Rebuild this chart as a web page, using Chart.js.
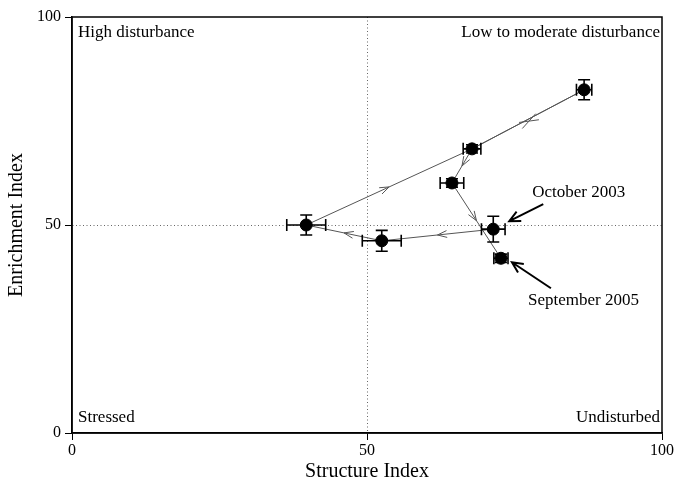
<!DOCTYPE html>
<html>
<head>
<meta charset="utf-8">
<script src="https://cdn.jsdelivr.net/npm/chart.js@4.4.1/dist/chart.umd.min.js"></script>
<style>
  body { margin: 0; background: #fff; }
</style>
</head>
<body>
<canvas id="chart" width="678" height="481"></canvas>
<script>
// sampling points (structure index, enrichment index) with their standard errors
var structure     = [39.7, 52.5, 71.4, 72.7, 64.4, 67.8, 86.8];
var enrichment    = [50.0, 46.2, 49.0, 42.0, 60.1, 68.3, 82.5];
var structureErr  = [3.3, 3.3, 2.0, 1.2, 2.0, 1.5, 1.3];
var enrichmentErr = [2.4, 2.5, 3.1, 1.0, 1.0, 1.0, 2.4];
// order in which the samples were taken: October 2003 ... September 2005
var pathOrder = [2, 1, 0, 5, 6, 5, 4, 3];
var axisTicks = [0, 50, 100];
var quadrantLabels = ['High disturbance', 'Low to moderate disturbance', 'Stressed', 'Undisturbed'];

var points = structure.map(function (x, i) { return { x: x, y: enrichment[i] }; });
var path = pathOrder.map(function (i) { return points[i]; });

var serif = '"Liberation Serif", "DejaVu Serif", serif';

var extras = {
    id: 'extras',
    afterDatasetsDraw: function (chart) {
        var ctx = chart.ctx, a = chart.chartArea;
        var xs = chart.scales.x, ys = chart.scales.y;
        ctx.save();

        // frame
        ctx.strokeStyle = '#000';
        ctx.lineWidth = 1.5;
        ctx.strokeRect(a.left, a.top, a.right - a.left, a.bottom - a.top);

        // open arrowheads in the middle of each segment
        ctx.strokeStyle = '#555';
        ctx.lineWidth = 1;
        for (var k = 0; k < path.length - 1; k++) {
            var x1 = xs.getPixelForValue(path[k].x), y1 = ys.getPixelForValue(path[k].y);
            var x2 = xs.getPixelForValue(path[k + 1].x), y2 = ys.getPixelForValue(path[k + 1].y);
            var ang = Math.atan2(y2 - y1, x2 - x1);
            var mx = (x1 + x2) / 2, my = (y1 + y2) / 2;
            var off = (k === 3) ? -2 : (k === 4 ? 2 : 0);
            mx += off * Math.sin(ang); my -= off * Math.cos(ang);
            ctx.beginPath();
            ctx.moveTo(mx - 10 * Math.cos(ang - 0.35), my - 10 * Math.sin(ang - 0.35));
            ctx.lineTo(mx, my);
            ctx.lineTo(mx - 10 * Math.cos(ang + 0.35), my - 10 * Math.sin(ang + 0.35));
            ctx.stroke();
        }

        // error bars
        ctx.strokeStyle = '#000';
        ctx.lineWidth = 1.6;
        points.forEach(function (p, i) {
            var cx = xs.getPixelForValue(p.x), cy = ys.getPixelForValue(p.y);
            var xl = xs.getPixelForValue(p.x - structureErr[i]), xr = xs.getPixelForValue(p.x + structureErr[i]);
            var yt = ys.getPixelForValue(p.y + enrichmentErr[i]), yb = ys.getPixelForValue(p.y - enrichmentErr[i]);
            ctx.beginPath();
            ctx.moveTo(xl, cy); ctx.lineTo(xr, cy);
            ctx.moveTo(xl, cy - 6); ctx.lineTo(xl, cy + 6);
            ctx.moveTo(xr, cy - 6); ctx.lineTo(xr, cy + 6);
            ctx.moveTo(cx, yt); ctx.lineTo(cx, yb);
            ctx.moveTo(cx - 6, yt); ctx.lineTo(cx + 6, yt);
            ctx.moveTo(cx - 6, yb); ctx.lineTo(cx + 6, yb);
            ctx.stroke();
        });

        // quadrant labels
        ctx.fillStyle = '#000';
        ctx.font = '17px ' + serif;
        ctx.textBaseline = 'middle';
        ctx.textAlign = 'left';
        ctx.fillText(quadrantLabels[0], a.left + 6, a.top + 16);
        ctx.fillText(quadrantLabels[2], a.left + 6, a.bottom - 15);
        ctx.textAlign = 'right';
        ctx.fillText(quadrantLabels[1], a.right - 2, a.top + 16);
        ctx.fillText(quadrantLabels[3], a.right - 2, a.bottom - 15);

        // callouts
        function callout(text, tx, ty, fromX, fromY, toX, toY) {
            ctx.textAlign = 'left';
            ctx.font = '17px ' + serif;
            ctx.fillText(text, tx, ty);
            var ang = Math.atan2(toY - fromY, toX - fromX);
            ctx.lineWidth = 2;
            ctx.beginPath();
            ctx.moveTo(fromX, fromY); ctx.lineTo(toX, toY);
            ctx.moveTo(toX + 12 * Math.cos(ang + Math.PI - 0.45), toY + 12 * Math.sin(ang + Math.PI - 0.45));
            ctx.lineTo(toX, toY);
            ctx.lineTo(toX + 12 * Math.cos(ang + Math.PI + 0.45), toY + 12 * Math.sin(ang + Math.PI + 0.45));
            ctx.stroke();
        }
        var c = points[pathOrder[0]], d = points[pathOrder[pathOrder.length - 1]];
        var cx = xs.getPixelForValue(c.x), cy = ys.getPixelForValue(c.y);
        var dx = xs.getPixelForValue(d.x), dy = ys.getPixelForValue(d.y);
        callout('October 2003', cx + 39, cy - 37, cx + 50, cy - 25, cx + 16, cy - 8);
        callout('September 2005', dx + 27, dy + 42, dx + 50, dy + 30, dx + 11, dy + 4);

        ctx.restore();
    }
};

new Chart(document.getElementById('chart').getContext('2d'), {
    type: 'scatter',
    data: {
        datasets: [{
            type: 'line',
            data: path,
            borderColor: '#555',
            borderWidth: 1,
            pointRadius: 0,
            fill: false,
            tension: 0,
            order: 2
        }, {
            data: points,
            backgroundColor: '#000',
            borderColor: '#000',
            pointRadius: 6,
            order: 1
        }]
    },
    options: {
        responsive: false,
        animation: false,
        layout: { padding: { top: 17, right: 16, left: 0, bottom: 0 } },
        plugins: { legend: { display: false }, tooltip: { enabled: false } },
        scales: {
            x: {
                type: 'linear', min: 0, max: 100,
                afterBuildTicks: function (s) { s.ticks = axisTicks.map(function (v) { return { value: v }; }); },
                afterFit: function (s) { s.height = 48; },
                ticks: { color: '#000', font: { family: serif, size: 16 }, padding: 1, maxRotation: 0 },
                grid: {
                    color: function (ctx) { return ctx.tick && ctx.tick.value === 50 ? '#666' : 'rgba(0,0,0,0)'; },
                    tickColor: '#000', tickLength: 7, lineWidth: 1
                },
                border: { color: '#000', width: 1.5, dash: [1, 2.5] },
                title: { display: true, text: 'Structure Index', color: '#000', font: { family: serif, size: 20 }, padding: { top: 2, bottom: -3 } }
            },
            y: {
                type: 'linear', min: 0, max: 100,
                afterBuildTicks: function (s) { s.ticks = axisTicks.map(function (v) { return { value: v }; }); },
                afterFit: function (s) { s.width = 72; },
                ticks: { color: '#000', font: { family: serif, size: 16 }, padding: 4 },
                grid: {
                    color: function (ctx) { return ctx.tick && ctx.tick.value === 50 ? '#666' : 'rgba(0,0,0,0)'; },
                    tickColor: '#000', tickLength: 7, lineWidth: 1
                },
                border: { color: '#000', width: 1.5, dash: [1, 2.5] },
                title: { display: true, text: 'Enrichment Index', color: '#000', font: { family: serif, size: 20 }, padding: { top: 5, bottom: 5 } }
            }
        }
    },
    plugins: [extras]
});
</script>
</body>
</html>
